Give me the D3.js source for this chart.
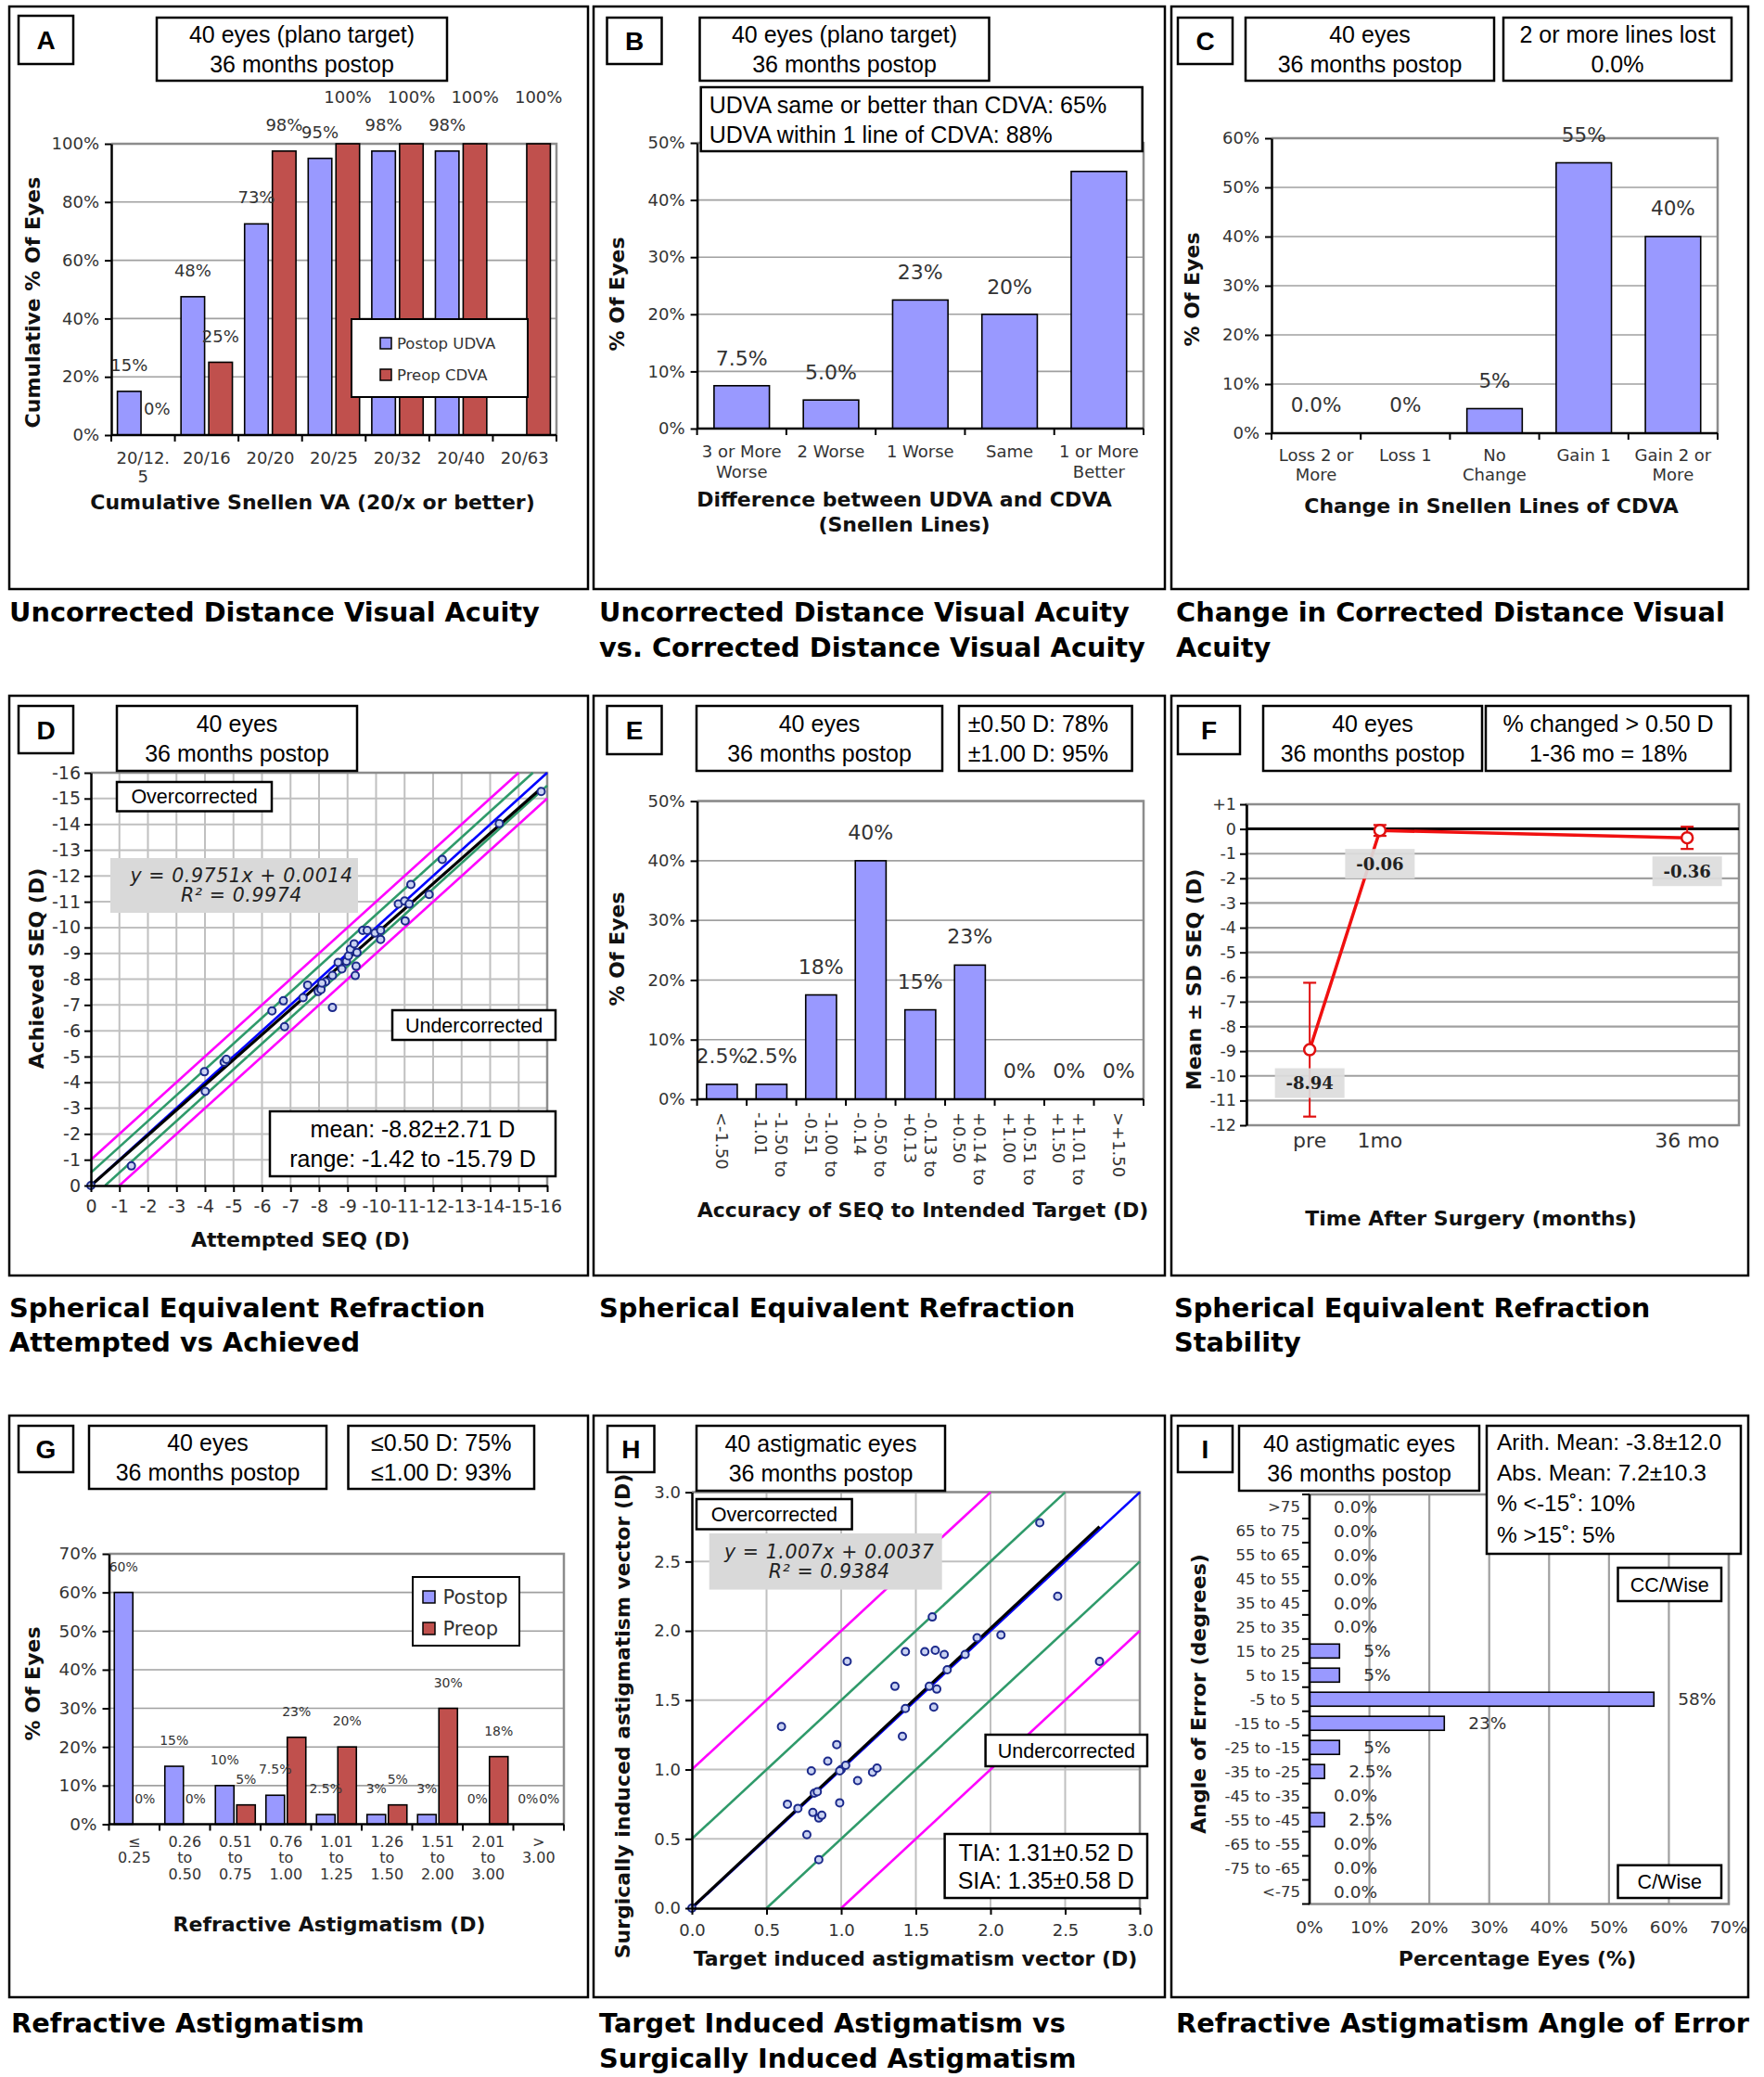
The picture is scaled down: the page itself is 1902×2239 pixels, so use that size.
<!DOCTYPE html>
<html><head><meta charset="utf-8">
<script src="https://cdn.jsdelivr.net/npm/d3@7/dist/d3.min.js"></script>
<style>body{margin:0;background:#fff} svg{display:block}</style>
</head><body>
<svg id="fig" width="1902" height="2239"></svg>
<script>
// ================= DATA =================
// A
const snellenTicks = [["20/12.","5"],["20/16"],["20/20"],["20/25"],["20/32"],["20/40"],["20/63"]];
const udvaPostop = [15, 47.5, 72.5, 95, 97.5, 97.5, null];
const cdvaPreop  = [0, 25, 97.5, 100, 100, 100, 100];
// B
const diffTicks = [["3 or More","Worse"],["2 Worse"],["1 Worse"],["Same"],["1 or More","Better"]];
const diffValues = [7.5, 5, 22.5, 20, 45];
const diffLabels = ["7.5%","5.0%","23%","20%","45%"];
// C
const cdvaChangeTicks = [["Loss 2 or","More"],["Loss 1"],["No","Change"],["Gain 1"],["Gain 2 or","More"]];
const cdvaChangeValues = [0, 0, 5, 55, 40];
const cdvaChangeLabels = ["0.0%","0%","5%","55%","40%"];
// D
const seqAttempted = [0,-1.42,-3.98,-4.01,-4.67,-4.75,-6.35,-6.75,-6.79,-7.44,-7.60,-7.97,-8.07,-8.23,-8.47,-8.47,-8.67,-8.80,-8.96,-9.03,-9.10,-9.23,-9.27,-9.30,-9.33,-9.53,-9.69,-9.96,-10.16,-10.16,-10.78,-11.00,-11.02,-11.16,-11.22,-11.86,-12.32,-14.32,-15.79,-8.10];
const seqAchieved  = [0,-0.76,-4.41,-3.65,-4.78,-4.89,-6.77,-7.16,-6.16,-7.28,-7.77,-7.52,-7.60,-7.90,-6.90,-8.14,-8.65,-8.40,-8.69,-8.90,-9.16,-9.37,-8.14,-8.50,-9.03,-9.89,-9.89,-9.79,-9.54,-9.89,-10.91,-11.03,-10.26,-10.91,-11.67,-11.28,-12.64,-14.03,-15.27,-7.85];
const seqFit = {m: 0.9751, b: 0.0014};
const seqTicks = d3.range(0, -17, -1);
// E
const accTicks = [["<-1.50"],["-1.50 to","-1.01"],["-1.00 to","-0.51"],["-0.50 to","-0.14"],["-0.13 to","+0.13"],["+0.14 to","+0.50"],["+0.51 to","+1.00"],["+1.01 to","+1.50"],[">+1.50"]];
const accValues = [2.5, 2.5, 17.5, 40, 15, 22.5, 0, 0, 0];
const accLabels = ["2.5%","2.5%","18%","40%","15%","23%","0%","0%","0%"];
// F
const stabTicks = ["pre","1mo","36 mo"];
const stabMonths = [-7, 1, 36];
const stabMean = [-8.94, -0.06, -0.36];
const stabSD = [2.71, 0.22, 0.45];
const stabLabels = ["-8.94","-0.06","-0.36"];
const stabYTicks = d3.range(1, -13, -1);
// G
const astigTicks = [["≤","0.25"],["0.26","to","0.50"],["0.51","to","0.75"],["0.76","to","1.00"],["1.01","to","1.25"],["1.26","to","1.50"],["1.51","to","2.00"],["2.01","to","3.00"],[">","3.00"]];
const astigPostop = [60, 15, 10, 7.5, 2.5, 2.5, 2.5, 0, 0];
const astigPreop  = [0, 0, 5, 22.5, 20, 5, 30, 17.5, 0];
const astigPostopLabels = ["60%","15%","10%","7.5%","2.5%","3%","3%","0%","0%"];
const astigPreopLabels  = ["0%","0%","5%","23%","20%","5%","30%","18%","0%"];
// H
const tiaValues = [0,0.60,0.64,0.71,0.77,0.80,0.81,0.82,0.84,0.85,0.87,0.85,0.91,0.97,0.99,1.00,1.03,1.04,1.11,1.21,1.24,1.36,1.41,1.43,1.43,1.56,1.59,1.61,1.62,1.63,1.64,1.69,1.71,1.83,1.91,2.07,2.33,2.45,2.73,0.99];
const siaValues = [0,1.31,0.75,0.72,0.53,0.99,0.69,0.83,0.84,0.65,0.67,0.35,1.06,1.18,0.76,1.00,1.03,1.78,0.92,0.98,1.01,1.60,1.24,1.85,1.44,1.85,1.60,2.10,1.45,1.86,1.58,1.83,1.72,1.83,1.95,1.97,2.78,2.25,1.78,0.99];
const astFit = {m: 1.007, b: 0.0037};
const astTicks = d3.range(0, 3.01, 0.5);
// I
const angleCats = [">75","65 to 75","55 to 65","45 to 55","35 to 45","25 to 35","15 to 25","5 to 15","-5 to 5","-15 to -5","-25 to -15","-35 to -25","-45 to -35","-55 to -45","-65 to -55","-75 to -65","<-75"];
const angleValues = [0,0,0,0,0,0,5,5,57.5,22.5,5,2.5,0,2.5,0,0,0];
const angleLabels = ["0.0%","0.0%","0.0%","0.0%","0.0%","0.0%","5%","5%","58%","23%","5%","2.5%","0.0%","2.5%","0.0%","0.0%","0.0%"];
const anglePctTicks = d3.range(0, 71, 10);

// ================= STYLE =================
const F_TICK = "'DejaVu Sans', Verdana, sans-serif";
const F_BOX = "'Liberation Sans', Arial, sans-serif";
const BLUE = "#9999FF", RED = "#C0504D";
const GRID = "#a0a0a0", BORDER = "#8c8c8c", TXT = "#333";

const svg = d3.select("#fig");
svg.append("rect").attr("width", 1902).attr("height", 2239).attr("fill", "#fff");

function frame(x0, y0, x1, y1) {
  svg.append("rect").attr("x", x0).attr("y", y0).attr("width", x1 - x0).attr("height", y1 - y0)
    .attr("fill", "none").attr("stroke", "#000").attr("stroke-width", 2.5);
}
function textBox(x, y, w, h, lines, opt = {}) {
  const g = svg.append("g");
  g.append("rect").attr("x", x).attr("y", y).attr("width", w).attr("height", h)
    .attr("fill", opt.fill || "#fff").attr("stroke", opt.noStroke ? "none" : "#000").attr("stroke-width", 2.5);
  const fs = opt.size || 25, lh = opt.lh || 32;
  const left = opt.align === "left";
  const cy0 = opt.firstY !== undefined ? opt.firstY : y + h / 2 - (lines.length - 1) * lh / 2;
  lines.forEach((s, i) => {
    g.append("text").attr("x", left ? x + (opt.padL || 10) : x + w / 2 + (opt.dx || 0)).attr("y", cy0 + i * lh)
      .attr("dy", "0.36em").attr("text-anchor", left ? "start" : "middle")
      .attr("font-family", opt.family || F_BOX).attr("font-size", fs)
      .attr("font-weight", opt.bold ? "bold" : "normal").attr("font-style", opt.italic ? "italic" : "normal")
      .attr("letter-spacing", opt.ls || 0)
      .attr("fill", opt.color || "#000").text(s);
  });
  return g;
}
function letterBox(x, y, w, h, s) {
  textBox(x, y, w, h, [s], {size: 28, bold: true, family: "'Liberation Sans', Arial, sans-serif"});
}
function panelTitle(x, y, lines) {
  lines.forEach((s, i) => svg.append("text").attr("x", x).attr("y", y + i * 37.5)
    .attr("font-family", F_TICK).attr("font-weight", "bold").attr("font-size", 28.8).attr("fill", "#000").text(s));
}
function axisTitle(x, y, lines, rot, size = 22, lh = 27) {
  const t = svg.append("text").attr("transform", `translate(${x},${y})` + (rot ? " rotate(-90)" : ""))
    .attr("text-anchor", "middle").attr("font-family", F_TICK).attr("font-weight", "bold")
    .attr("font-size", size).attr("fill", "#111");
  lines.forEach((s, i) => t.append("tspan").attr("x", 0).attr("y", i * lh).attr("dy", "0.36em").text(s));
}
function styleAxis(sel, size, color = TXT) {
  sel.select(".domain").attr("stroke", "#000").attr("stroke-width", 2.5);
  sel.selectAll(".tick line").attr("stroke", "#000").attr("stroke-width", 2);
  sel.selectAll(".tick text").attr("font-family", F_TICK).attr("font-size", size).attr("fill", color);
}

// ---------- vertical bar chart ----------
function vbars(o) {
  const g = svg.append("g");
  const n = o.cats.length;
  const x = d3.scaleBand().domain(d3.range(n)).range([o.x0, o.x1]);
  const sub = d3.scaleBand().domain(d3.range(o.series.length)).range([0, x.bandwidth()])
    .paddingInner(o.inner).paddingOuter(o.outer);
  const y = d3.scaleLinear().domain([0, o.yMax]).range([o.y1, o.y0]);
  const ticks = d3.range(0, o.yMax + o.yStep / 2, o.yStep);
  g.selectAll(null).data(ticks.slice(1)).join("line")
    .attr("x1", o.x0).attr("x2", o.x1).attr("y1", d => y(d)).attr("y2", d => y(d))
    .attr("stroke", GRID).attr("stroke-width", 1.6);
  g.append("path").attr("d", `M${o.x0},${o.y0}H${o.x1}V${o.y1}`).attr("fill", "none")
    .attr("stroke", BORDER).attr("stroke-width", 2.5);
  o.series.forEach((s, si) => {
    const idx = d3.range(n).filter(i => s.values[i] != null);
    g.selectAll(null).data(idx.filter(i => s.values[i] > 0)).join("rect")
      .attr("x", i => x(i) + sub(si)).attr("y", i => y(s.values[i]))
      .attr("width", sub.bandwidth()).attr("height", i => y(0) - y(s.values[i]))
      .attr("fill", s.color).attr("stroke", "#000").attr("stroke-width", 1.6);
  });
  o.series.forEach((s, si) => {
    const idx = d3.range(n).filter(i => s.values[i] != null);
    g.selectAll(null).data(idx).join("text")
      .attr("x", i => x(i) + sub(si) + sub.bandwidth() / 2)
      .attr("y", i => y(s.values[i]) - o.labelGap - (o.lift ? o.lift(s.values[i]) : 0))
      .attr("text-anchor", "middle").attr("font-family", F_TICK).attr("font-size", o.labelSize).attr("fill", TXT)
      .text(i => s.labels ? s.labels[i] : Math.round(s.values[i]) + "%");
  });
  const ya = g.append("g").attr("transform", `translate(${o.x0},0)`)
    .call(d3.axisLeft(y).tickValues(ticks).tickSize(7).tickSizeOuter(0).tickPadding(o.yPad || 6).tickFormat(d => d + "%"));
  styleAxis(ya, o.ySize);
  g.append("line").attr("x1", o.x0).attr("x2", o.x1).attr("y1", o.y1).attr("y2", o.y1)
    .attr("stroke", "#000").attr("stroke-width", 2.5);
  const bounds = d3.range(n + 1).map(i => i < n ? x(i) : o.x1);
  g.selectAll(null).data(bounds).join("line").attr("x1", d => d).attr("x2", d => d)
    .attr("y1", o.y1).attr("y2", o.y1 + 7).attr("stroke", "#000").attr("stroke-width", 2);
  o.cats.forEach((lines, i) => {
    const cx = x(i) + x.bandwidth() / 2;
    if (o.rotTicks) {
      const t = g.append("text").attr("transform", `translate(${cx},${o.tickY}) rotate(90)`)
        .attr("font-family", F_TICK).attr("font-size", o.xSize).attr("fill", TXT);
      lines.forEach((s, j) => t.append("tspan").attr("x", 0)
        .attr("y", (j - (lines.length - 1) / 2) * o.tickLH).attr("dy", "0.36em").text(s));
    } else {
      lines.forEach((s, j) => g.append("text").attr("x", cx).attr("y", o.tickY + j * o.tickLH)
        .attr("dy", "0.36em").attr("text-anchor", "middle").attr("font-family", F_TICK)
        .attr("font-size", o.xSize).attr("fill", TXT).text(s));
    }
  });
  return {x, y, sub};
}

// ---------- scatter with reference lines ----------
function scatterRef(o) {
  const g = svg.append("g");
  const x = d3.scaleLinear().domain(o.domain).range([o.x0, o.x1]);
  const y = d3.scaleLinear().domain(o.domain).range([o.y1, o.y0]);
  g.selectAll(null).data(o.ticks.slice(1)).join("line")
    .attr("x1", d => x(d)).attr("x2", d => x(d)).attr("y1", o.y0).attr("y2", o.y1)
    .attr("stroke", "#c0c0c0").attr("stroke-width", 2);
  g.selectAll(null).data(o.ticks.slice(1)).join("line")
    .attr("x1", o.x0).attr("x2", o.x1).attr("y1", d => y(d)).attr("y2", d => y(d))
    .attr("stroke", "#c0c0c0").attr("stroke-width", 2);
  g.append("path").attr("d", `M${o.x0},${o.y0}H${o.x1}V${o.y1}`).attr("fill", "none")
    .attr("stroke", BORDER).attr("stroke-width", 2.5);
  const lo = d3.min(o.domain), hi = d3.max(o.domain);
  const refs = [{c: o.sgn * 1, col: "#ff00ff"}, {c: -o.sgn * 1, col: "#ff00ff"},
                {c: o.sgn * 0.5, col: "#2f9a6a"}, {c: -o.sgn * 0.5, col: "#2f9a6a"}, {c: 0, col: "#0000ff"}];
  refs.forEach(r => {
    const a = Math.max(lo, lo - r.c), b = Math.min(hi, hi - r.c);
    g.append("line").attr("x1", x(a)).attr("y1", y(a + r.c)).attr("x2", x(b)).attr("y2", y(b + r.c))
      .attr("stroke", r.col).attr("stroke-width", 2.6);
  });
  const ext = d3.extent(o.xs);
  g.append("line").attr("x1", x(ext[0])).attr("y1", y(o.fit.m * ext[0] + o.fit.b))
    .attr("x2", x(ext[1])).attr("y2", y(o.fit.m * ext[1] + o.fit.b))
    .attr("stroke", "#000").attr("stroke-width", 3.2);
  g.selectAll(null).data(o.xs.map((v, i) => [v, o.ys[i]])).join("circle")
    .attr("cx", d => x(d[0])).attr("cy", d => y(d[1])).attr("r", 4)
    .attr("fill", "#c9d2f2").attr("stroke", "#1c2a8c").attr("stroke-width", 2);
  const ya = g.append("g").attr("transform", `translate(${o.x0},0)`)
    .call(d3.axisLeft(y).tickValues(o.ticks).tickSize(7).tickSizeOuter(0).tickPadding(o.yPad).tickFormat(o.fmt));
  styleAxis(ya, o.size);
  const xa = g.append("g").attr("transform", `translate(0,${o.y1})`)
    .call(d3.axisBottom(x).tickValues(o.ticks).tickSize(7).tickSizeOuter(0).tickPadding(o.xPad).tickFormat(o.fmt));
  styleAxis(xa, o.size);
  return {x, y};
}

// ================= PANEL FRAMES =================
const cols = [[10, 634], [640, 1256], [1263, 1885]];
const rows = [[7, 635], [750, 1375], [1526, 2153]];
rows.forEach(r => cols.forEach(c => frame(c[0], r[0], c[1], r[1])));

// ================= A =================
vbars({x0: 120, x1: 600, y0: 155, y1: 469, yMax: 100, yStep: 20, cats: snellenTicks,
  series: [{values: udvaPostop, color: BLUE}, {values: cdvaPreop, color: RED}],
  inner: 0.15, outer: 0.22, labelGap: 22, labelSize: 18, lift: v => v >= 100 ? 22 : 0,
  ySize: 18, xSize: 18, tickY: 494, tickLH: 20});
// legend A
{
  const g = svg.append("g");
  g.append("rect").attr("x", 379).attr("y", 344).attr("width", 190).attr("height", 84)
    .attr("fill", "#fff").attr("stroke", "#000").attr("stroke-width", 2);
  [["Postop UDVA", BLUE], ["Preop CDVA", RED]].forEach((d, i) => {
    g.append("rect").attr("x", 410).attr("y", 364 + i * 34).attr("width", 12).attr("height", 12)
      .attr("fill", d[1]).attr("stroke", "#000").attr("stroke-width", 1.5);
    g.append("text").attr("x", 428).attr("y", 370 + i * 34).attr("dy", "0.36em")
      .attr("font-family", F_TICK).attr("font-size", 16.5).attr("fill", TXT).text(d[0]);
  });
}
axisTitle(35, 326, ["Cumulative % Of Eyes"], true);
axisTitle(337, 541, ["Cumulative Snellen VA (20/x or better)"], false);
letterBox(20, 17, 59, 52, "A");
textBox(169, 19, 313, 68, ["40 eyes (plano target)", "36 months postop"]);
panelTitle(10, 670, ["Uncorrected Distance Visual Acuity"]);

// ================= B =================
vbars({x0: 751.6, x1: 1233, y0: 154, y1: 462, yMax: 50, yStep: 10, cats: diffTicks,
  series: [{values: diffValues, labels: diffLabels, color: BLUE}],
  inner: 0.38, outer: 0.19, labelGap: 22, labelSize: 22, ySize: 18, xSize: 18, tickY: 486.7, tickLH: 21.5});
axisTitle(665, 317, ["% Of Eyes"], true);
axisTitle(975, 538, ["Difference between  UDVA and CDVA", "(Snellen Lines)"], false, 22, 27);
letterBox(654.5, 19, 59, 50, "B");
textBox(754.5, 19, 312, 68, ["40 eyes (plano target)", "36 months postop"]);
textBox(755.7, 94, 476, 69, ["UDVA same or better than CDVA: 65%", "UDVA within 1 line of CDVA: 88%"], {align: "left", padL: 9});
panelTitle(646, 670, ["Uncorrected Distance Visual Acuity", "vs. Corrected Distance Visual Acuity"]);

// ================= C =================
vbars({x0: 1371, x1: 1852, y0: 149, y1: 467, yMax: 60, yStep: 10, cats: cdvaChangeTicks,
  series: [{values: cdvaChangeValues, labels: cdvaChangeLabels, color: BLUE}],
  inner: 0.38, outer: 0.19, labelGap: 23, labelSize: 21.5, ySize: 18, xSize: 18, tickY: 491, tickLH: 21});
axisTitle(1285, 312, ["% Of Eyes"], true);
axisTitle(1608, 545, ["Change in Snellen Lines of CDVA"], false);
letterBox(1270, 19, 59, 50, "C");
textBox(1343, 19, 268, 68, ["40 eyes", "36 months postop"]);
textBox(1621, 19, 246, 68, ["2 or more lines lost", "0.0%"]);
panelTitle(1268, 670, ["Change in Corrected Distance Visual", "Acuity"]);

// ================= D =================
scatterRef({x0: 98, x1: 590, y0: 833, y1: 1278, domain: [0, -16], ticks: seqTicks, sgn: -1,
  xs: seqAttempted, ys: seqAchieved, fit: seqFit, fmt: d => String(d), size: 19, yPad: 4, xPad: 9});
axisTitle(39, 1044, ["Achieved SEQ (D)"], true);
axisTitle(324, 1336, ["Attempted SEQ (D)"], false);
letterBox(20, 761, 59, 51, "D");
textBox(126, 761, 259, 70, ["40 eyes", "36 months postop"]);
textBox(126, 843, 167, 31.5, ["Overcorrected"], {size: 21.5});
textBox(119, 925, 267, 59, ["y = 0.9751x + 0.0014", "R² = 0.9974"], {fill: "#d9d9d9", noStroke: true, italic: true, family: F_TICK, size: 20.5, lh: 21, ls: 0.6, color: "#222", dx: 8});
textBox(423, 1089, 176, 32, ["Undercorrected"], {size: 21.5});
textBox(291, 1198, 308, 70, ["mean: -8.82±2.71 D", "range: -1.42 to -15.79 D"]);
panelTitle(10, 1419.5, ["Spherical Equivalent Refraction", "Attempted vs Achieved"]);

// ================= E =================
vbars({x0: 751.6, x1: 1233, y0: 863.6, y1: 1185, yMax: 50, yStep: 10, cats: accTicks,
  series: [{values: accValues, labels: accLabels, color: BLUE}],
  inner: 0.38, outer: 0.19, labelGap: 23, labelSize: 22, ySize: 18, xSize: 18,
  rotTicks: true, tickY: 1199, tickLH: 22});
axisTitle(665, 1023, ["% Of Eyes"], true);
axisTitle(995, 1304, ["Accuracy of SEQ to Intended Target (D)"], false);
letterBox(654.5, 761, 59, 52, "E");
textBox(751, 761, 265, 70, ["40 eyes", "36 months postop"]);
textBox(1034, 761, 186.6, 70, ["±0.50 D: 78%", "±1.00 D: 95%"], {dx: -8});
panelTitle(646, 1419.5, ["Spherical Equivalent Refraction"]);

// ================= F =================
{
  const x0 = 1344, x1 = 1875, y0 = 867, y1 = 1213;
  const g = svg.append("g");
  const x = d3.scaleLinear().domain([-14.2, 41.9]).range([x0, x1]);
  const y = d3.scaleLinear().domain([-12, 1]).range([y1, y0]);
  g.selectAll(null).data(stabYTicks.filter(d => d !== 0)).join("line")
    .attr("x1", x0).attr("x2", x1).attr("y1", d => y(d)).attr("y2", d => y(d))
    .attr("stroke", GRID).attr("stroke-width", 2.2);
  g.append("rect").attr("x", x0).attr("y", y0).attr("width", x1 - x0).attr("height", y1 - y0)
    .attr("fill", "none").attr("stroke", BORDER).attr("stroke-width", 2.5);
  g.append("line").attr("x1", x0).attr("x2", x1).attr("y1", y(0)).attr("y2", y(0))
    .attr("stroke", "#000").attr("stroke-width", 3);
  const ya = g.append("g").attr("transform", `translate(${x0},0)`)
    .call(d3.axisLeft(y).tickValues(stabYTicks).tickSize(7).tickSizeOuter(0).tickPadding(4)
      .tickFormat(d => d > 0 ? "+" + d : String(d)));
  styleAxis(ya, 17.5);
  const pts = stabMean.map((m, i) => ({x: stabMonths[i], m, sd: stabSD[i], lab: stabLabels[i], t: stabTicks[i]}));
  g.selectAll(null).data(pts).join("line")
    .attr("x1", d => x(d.x)).attr("x2", d => x(d.x)).attr("y1", d => y(d.m + d.sd)).attr("y2", d => y(d.m - d.sd))
    .attr("stroke", "#e01010").attr("stroke-width", 2);
  [1, -1].forEach(s => g.selectAll(null).data(pts).join("line")
    .attr("x1", d => x(d.x) - 7).attr("x2", d => x(d.x) + 7)
    .attr("y1", d => y(d.m + s * d.sd)).attr("y2", d => y(d.m + s * d.sd))
    .attr("stroke", "#e01010").attr("stroke-width", 2.2));
  g.append("path").datum(pts).attr("d", d3.line().x(d => x(d.x)).y(d => y(d.m)))
    .attr("fill", "none").attr("stroke", "#f01010").attr("stroke-width", 3.5);
  g.selectAll(null).data(pts).join("circle").attr("cx", d => x(d.x)).attr("cy", d => y(d.m)).attr("r", 6)
    .attr("fill", "#fff").attr("stroke", "#e01010").attr("stroke-width", 2.5);
  pts.forEach(d => {
    const cx = x(d.x), cy = y(d.m) + 36;
    g.append("rect").attr("x", cx - 37.5).attr("y", cy - 16).attr("width", 75).attr("height", 32)
      .attr("fill", "#dcdcdc").attr("opacity", 0.92);
    g.append("text").attr("x", cx).attr("y", cy).attr("dy", "0.36em").attr("text-anchor", "middle")
      .attr("font-family", "'DejaVu Serif', Cambria, serif").attr("font-weight", "bold").attr("font-size", 18)
      .attr("fill", "#222").text(d.lab);
    g.append("text").attr("x", cx).attr("y", 1229).attr("dy", "0.36em").attr("text-anchor", "middle")
      .attr("font-family", F_TICK).attr("font-size", 22).attr("fill", TXT).text(d.t);
  });
}
axisTitle(1287, 1056, ["Mean ± SD SEQ (D)"], true);
axisTitle(1586, 1313, ["Time After Surgery (months)"], false);
letterBox(1270, 761, 67, 52, "F");
textBox(1362, 761, 236, 70, ["40 eyes", "36 months postop"]);
textBox(1602, 761, 264, 70, ["% changed > 0.50 D", "1-36 mo = 18%"]);
panelTitle(1266, 1419.5, ["Spherical Equivalent Refraction", "Stability"]);

// ================= G =================
vbars({x0: 117.5, x1: 608, y0: 1675, y1: 1966.5, yMax: 70, yStep: 10, cats: astigTicks,
  series: [{values: astigPostop, labels: astigPostopLabels, color: BLUE}, {values: astigPreop, labels: astigPreopLabels, color: RED}],
  inner: 0.13, outer: 0.25, labelGap: 23, labelSize: 14, ySize: 18.4, xSize: 16, tickY: 1985, tickLH: 17.5});
{
  const g = svg.append("g");
  g.append("rect").attr("x", 445).attr("y", 1700).attr("width", 115).attr("height", 74)
    .attr("fill", "#fff").attr("stroke", "#000").attr("stroke-width", 2);
  [["Postop", BLUE], ["Preop", RED]].forEach((d, i) => {
    g.append("rect").attr("x", 456).attr("y", 1715 + i * 34).attr("width", 13).attr("height", 13)
      .attr("fill", d[1]).attr("stroke", "#000").attr("stroke-width", 1.5);
    g.append("text").attr("x", 477.5).attr("y", 1721.5 + i * 34).attr("dy", "0.36em")
      .attr("font-family", F_TICK).attr("font-size", 21).attr("fill", TXT).text(d[0]);
  });
}
axisTitle(35, 1815, ["% Of Eyes"], true);
axisTitle(355, 2074, ["Refractive Astigmatism (D)"], false);
letterBox(20, 1537, 59, 50, "G");
textBox(96, 1537, 256, 68, ["40 eyes", "36 months postop"]);
textBox(375.5, 1537, 200.5, 68, ["≤0.50 D: 75%", "≤1.00 D: 93%"]);
panelTitle(12, 2191, ["Refractive Astigmatism"]);

// ================= H =================
scatterRef({x0: 746, x1: 1229, y0: 1608.6, y1: 2057, domain: [0, 3], ticks: astTicks, sgn: 1,
  xs: tiaValues, ys: siaValues, fit: astFit, fmt: d3.format(".1f"), size: 18, yPad: 5, xPad: 10});
axisTitle(671, 1850, ["Surgically induced astigmatism vector (D)"], true);
axisTitle(987, 2111, ["Target induced astigmatism vector (D)"], false);
letterBox(655, 1537, 50.5, 50, "H");
textBox(751, 1537, 268, 70, ["40 astigmatic eyes", "36 months postop"]);
textBox(751, 1616, 167.6, 32.5, ["Overcorrected"], {size: 21.5});
textBox(764.7, 1653, 251, 60.6, ["y = 1.007x + 0.0037", "R² = 0.9384"], {fill: "#d9d9d9", noStroke: true, italic: true, family: F_TICK, size: 20.5, lh: 21, ls: 0.6, color: "#222", dx: 4});
textBox(1062.6, 1870, 174.4, 34, ["Undercorrected"], {size: 21.5});
textBox(1018.6, 1977, 218.4, 69, ["TIA: 1.31±0.52 D", "SIA: 1.35±0.58 D"], {lh: 30});
panelTitle(646, 2191, ["Target Induced Astigmatism vs", "Surgically Induced Astigmatism"]);

// ================= I =================
{
  const x0 = 1412, x1 = 1864, y0 = 1611, y1 = 2052.5;
  const g = svg.append("g");
  const x = d3.scaleLinear().domain([0, 70]).range([x0, x1]);
  const y = d3.scaleBand().domain(angleCats).range([y0, y1]).paddingInner(0.42).paddingOuter(0.21);
  g.selectAll(null).data(anglePctTicks.slice(1)).join("line")
    .attr("x1", d => x(d)).attr("x2", d => x(d)).attr("y1", y0).attr("y2", y1)
    .attr("stroke", GRID).attr("stroke-width", 2.2);
  g.append("rect").attr("x", x0).attr("y", y0).attr("width", x1 - x0).attr("height", y1 - y0)
    .attr("fill", "none").attr("stroke", BORDER).attr("stroke-width", 2.5);
  g.selectAll(null).data(angleCats.filter((c, i) => angleValues[i] > 0)).join("rect")
    .attr("x", x0).attr("y", d => y(d)).attr("height", y.bandwidth())
    .attr("width", d => x(angleValues[angleCats.indexOf(d)]) - x0)
    .attr("fill", BLUE).attr("stroke", "#000").attr("stroke-width", 1.6);
  const step = y.step();
  g.append("line").attr("x1", x0).attr("x2", x0).attr("y1", y0).attr("y2", y1).attr("stroke", "#000").attr("stroke-width", 2.5);
  g.selectAll(null).data(d3.range(angleCats.length + 1)).join("line")
    .attr("x1", x0 - 8).attr("x2", x0).attr("y1", i => y0 + i * (y1 - y0) / angleCats.length).attr("y2", i => y0 + i * (y1 - y0) / angleCats.length)
    .attr("stroke", "#000").attr("stroke-width", 2);
  angleCats.forEach((c, i) => {
    const cy = y(c) + y.bandwidth() / 2;
    g.append("text").attr("x", x0 - 10).attr("y", cy).attr("dy", "0.36em").attr("text-anchor", "end")
      .attr("font-family", F_TICK).attr("font-size", 16.6).attr("fill", TXT).text(c);
    g.append("text").attr("x", x(angleValues[i]) + 26).attr("y", cy).attr("dy", "0.36em")
      .attr("font-family", F_TICK).attr("font-size", 18.5).attr("fill", TXT).text(angleLabels[i]);
  });
  g.selectAll(null).data(anglePctTicks).join("text").attr("x", d => x(d)).attr("y", 2077).attr("dy", "0.36em")
    .attr("text-anchor", "middle").attr("font-family", F_TICK).attr("font-size", 18.5).attr("fill", TXT).text(d => d + "%");
}
axisTitle(1292, 1826, ["Angle of Error (degrees)"], true);
axisTitle(1636, 2111, ["Percentage Eyes (%)"], false);
letterBox(1270, 1537, 59, 50, "I");
textBox(1336, 1537, 259, 70, ["40 astigmatic eyes", "36 months postop"]);
textBox(1603, 1537, 274, 138, ["Arith. Mean: -3.8±12.0", "Abs. Mean: 7.2±10.3", "% <-15˚: 10%", "% >15˚: 5%"], {align: "left", padL: 11, size: 24.5, lh: 33.3, firstY: 1554});
textBox(1744.5, 1690, 111.5, 36, ["CC/Wise"], {size: 21.5});
textBox(1744.5, 2010.7, 111.5, 35.3, ["C/Wise"], {size: 21.5});
panelTitle(1268, 2191, ["Refractive Astigmatism Angle of Error"]);
</script>
</body></html>
